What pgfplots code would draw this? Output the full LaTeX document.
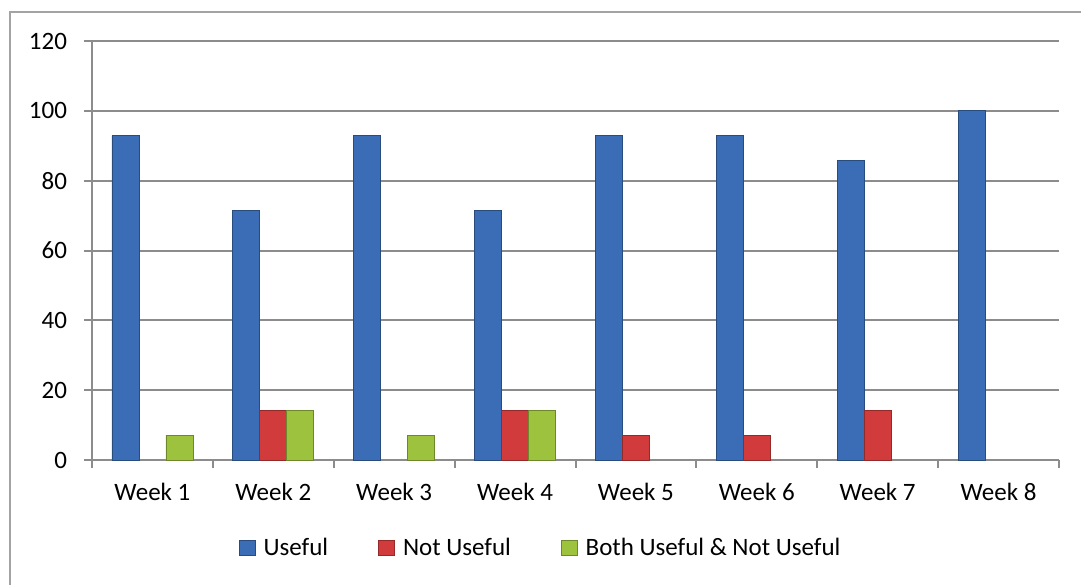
\documentclass[border=0pt]{standalone}
\usepackage{pgfplots}
\pgfplotsset{compat=1.18}
\usepackage{fontspec}
\setmainfont{Carlito}

\definecolor{cUse}{HTML}{3A6DB6}
\definecolor{cNot}{HTML}{D23B3B}
\definecolor{cBoth}{HTML}{9CC23E}
\definecolor{cGrid}{HTML}{8C8C8C}

\begin{document}
\begin{tikzpicture}[x=1pt,y=1pt]
\useasboundingbox (0,0) rectangle (540.5,292);
\draw[cGrid!80, line width=0.8pt] (5,-10) -- (5,286) -- (560,286);
\begin{axis}[
  at={(46pt,62pt)}, anchor=south west,
  scale only axis, width=483.5pt, height=209.5pt,
  xmin=0.5, xmax=8.5, ymin=0, ymax=120,
  ytick={0,20,...,120},
  xtick={0.5,1.5,...,8.5}, xticklabels={},
  extra x ticks={1,2,...,8},
  extra x tick labels={Week 1,Week 2,Week 3,Week 4,Week 5,Week 6,Week 7,Week 8},
  extra x tick style={major tick length=0pt},
  axis lines=left, axis line style={-, draw=cGrid, line width=1pt},
  tick align=outside, major tick length=4pt,
  tick style={draw=cGrid, line width=1pt},
  ymajorgrids, grid style={draw=cGrid, line width=1pt},
  /pgf/number format/assume math mode=true,
  font=\fontsize{12.5}{15}\selectfont,
  ticklabel style={font=\fontsize{12.5}{15}\selectfont},
  yticklabel style={xshift=-5pt},
  xticklabel style={yshift=-8pt},
  ybar=0pt, bar width=13.5pt,
  legend style={at={(0.465,-0.21)}, anchor=center, draw=none, fill=none,
    legend columns=-1, font=\fontsize{12.5}{15}\selectfont,
    /tikz/every odd column/.append style={column sep=2pt},
    /tikz/every even column/.append style={column sep=23pt}},
  legend image code/.code={\draw[#1] (0pt,-3.8pt) rectangle (8pt,3.8pt);},
]
\addplot[fill=cUse, draw=cUse!70!black] coordinates {(1,92.9) (2,71.4) (3,92.9) (4,71.4) (5,92.9) (6,92.9) (7,85.7) (8,100)};
\addplot[fill=cNot, draw=cNot!70!black] coordinates {(2,14.3) (4,14.3) (5,7.1) (6,7.1) (7,14.3)};
\addplot[fill=cBoth, draw=cBoth!70!black] coordinates {(1,7.1) (2,14.3) (3,7.1) (4,14.3)};
\legend{Useful,Not Useful,Both Useful \& Not Useful}
\end{axis}
\end{tikzpicture}
\end{document}
